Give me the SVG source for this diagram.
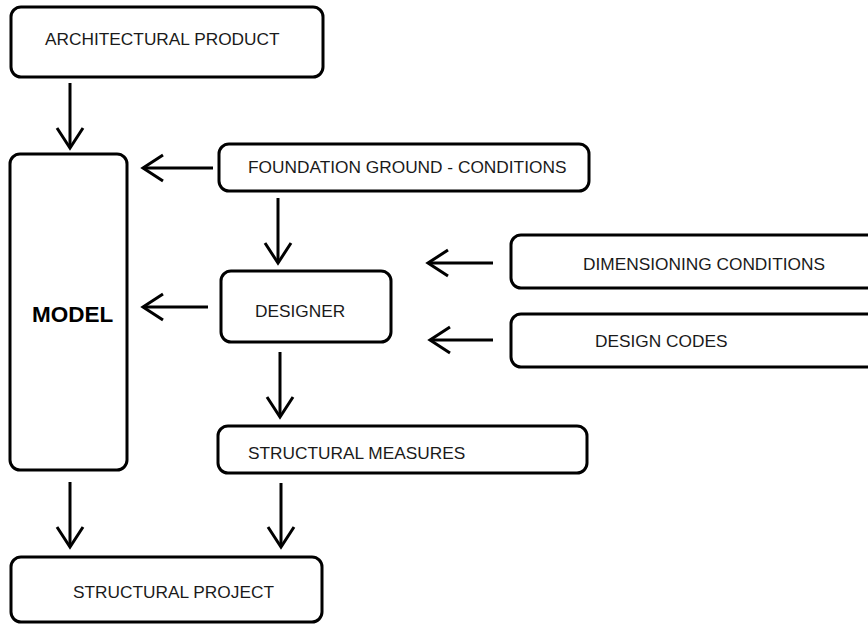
<svg xmlns="http://www.w3.org/2000/svg" width="868" height="627" viewBox="0 0 868 627">
  <style>
    .box { fill: #ffffff; stroke: #000000; stroke-width: 3; }
    .lbl { font-family: "Liberation Sans", Arial, sans-serif; font-size: 17.3px; fill: #1a1a1a; }
    .big { font-family: "Liberation Sans", Arial, sans-serif; font-size: 22.5px; font-weight: bold; fill: #000000; }
    .wire { fill: none; stroke: #000000; stroke-width: 3; marker-end: url(#head); }
  </style>
  <defs>
    <marker id="head" markerUnits="userSpaceOnUse" viewBox="-24 -16 28 32" refX="0" refY="0" markerWidth="28" markerHeight="32" orient="auto">
      <path d="M -20 -13 L 0 0 L -20 13" fill="none" stroke="#000000" stroke-width="3"/>
    </marker>
  </defs>
  <rect width="868" height="627" fill="#ffffff"/>

  <g id="architectural-product">
    <rect class="box" x="11" y="7" width="312" height="70" rx="10"/>
    <text class="lbl" x="45" y="45">ARCHITECTURAL PRODUCT</text>
  </g>

  <g id="model">
    <rect class="box" x="10" y="154" width="117" height="316" rx="10"/>
    <text class="big" x="32" y="322">MODEL</text>
  </g>

  <g id="foundation-ground-conditions">
    <rect class="box" x="219" y="144" width="370" height="47" rx="10"/>
    <text class="lbl" x="248" y="173">FOUNDATION GROUND - CONDITIONS</text>
  </g>

  <g id="designer">
    <rect class="box" x="221" y="271" width="170" height="71" rx="10"/>
    <text class="lbl" x="255" y="317">DESIGNER</text>
  </g>

  <g id="dimensioning-conditions">
    <rect class="box" x="511" y="235" width="400" height="53" rx="10"/>
    <text class="lbl" x="583" y="270">DIMENSIONING CONDITIONS</text>
  </g>

  <g id="design-codes">
    <rect class="box" x="511" y="314" width="400" height="53" rx="10"/>
    <text class="lbl" x="595" y="347">DESIGN CODES</text>
  </g>

  <g id="structural-measures">
    <rect class="box" x="218" y="426" width="369" height="47" rx="10"/>
    <text class="lbl" x="248" y="459">STRUCTURAL MEASURES</text>
  </g>

  <g id="structural-project">
    <rect class="box" x="11" y="557" width="311" height="65" rx="10"/>
    <text class="lbl" x="73" y="598">STRUCTURAL PROJECT</text>
  </g>

  <g id="connectors">
    <line class="wire" x1="70" y1="83" x2="70" y2="148"/>
    <line class="wire" x1="213" y1="168" x2="143" y2="168"/>
    <line class="wire" x1="278" y1="198" x2="278" y2="263"/>
    <line class="wire" x1="208" y1="307" x2="143" y2="307"/>
    <line class="wire" x1="493" y1="263" x2="428" y2="263"/>
    <line class="wire" x1="493" y1="340" x2="430" y2="340"/>
    <line class="wire" x1="280" y1="352" x2="280" y2="417"/>
    <line class="wire" x1="70" y1="482" x2="70" y2="547"/>
    <line class="wire" x1="281" y1="483" x2="281" y2="547"/>
  </g>
</svg>
